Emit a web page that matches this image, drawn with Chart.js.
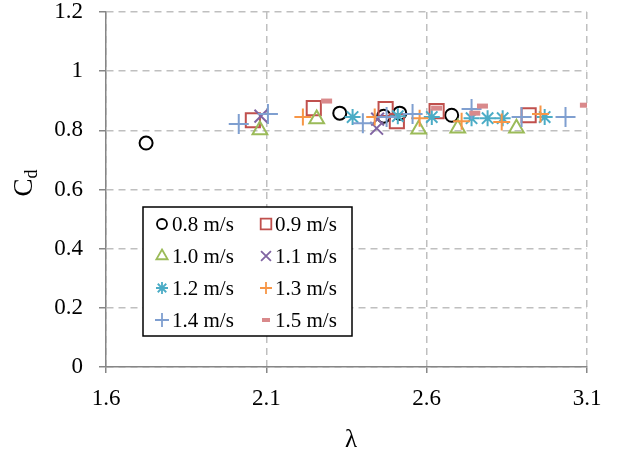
<!DOCTYPE html>
<html><head><meta charset="utf-8">
<script src="https://cdn.jsdelivr.net/npm/chart.js@4/dist/chart.umd.min.js"></script>
<style>html,body{margin:0;padding:0;background:#fff}#wrap{width:622px;height:456px}</style>
</head><body><div id="wrap"><canvas id="c" width="622" height="456"></canvas></div>
<script>
const seriesLabels = ['0.8 m/s','0.9 m/s','1.0 m/s','1.1 m/s','1.2 m/s','1.3 m/s','1.4 m/s','1.5 m/s'];
const lambda_08 = [1.725, 2.329, 2.466, 2.516, 2.678];
const cd_08     = [0.757, 0.858, 0.848, 0.858, 0.851];
const lambda_09 = [2.058, 2.248, 2.472, 2.507, 2.631, 2.918];
const cd_09     = [0.834, 0.875, 0.872, 0.831, 0.865, 0.851];
const lambda_10 = [2.080, 2.257, 2.575, 2.697, 2.880];
const cd_10     = [0.801, 0.838, 0.804, 0.807, 0.807];
const lambda_11 = [2.083, 2.444, 2.447];
const cd_11     = [0.848, 0.807, 0.838];
const lambda_12 = [2.369, 2.510, 2.616, 2.740, 2.790, 2.837, 2.968];
const cd_12     = [0.845, 0.848, 0.845, 0.841, 0.841, 0.841, 0.845];
const lambda_13 = [2.214, 2.438, 2.578, 2.709, 2.834, 2.955];
const cd_13     = [0.845, 0.845, 0.841, 0.831, 0.828, 0.855];
const lambda_14 = [2.014, 2.105, 2.401, 2.475, 2.556, 2.740, 2.896, 3.033];
const cd_14     = [0.821, 0.855, 0.824, 0.845, 0.855, 0.872, 0.845, 0.845];
const lambda_15 = [2.288, 2.631, 2.750, 2.774, 3.095];
const cd_15     = [0.899, 0.875, 0.858, 0.882, 0.885];
const xTicks = [1.6, 2.1, 2.6, 3.1];
const xTickLabels = ['1.6', '2.1', '2.6', '3.1'];
const yTicks = [0, 0.2, 0.4, 0.6, 0.8, 1.0, 1.2];
const yTickLabels = ['0', '0.2', '0.4', '0.6', '0.8', '1', '1.2'];
const xTitle = 'λ';

const lambdas = [lambda_08, lambda_09, lambda_10, lambda_11, lambda_12, lambda_13, lambda_14, lambda_15];
const cds = [cd_08, cd_09, cd_10, cd_11, cd_12, cd_13, cd_14, cd_15];

const styles = [
  {pointStyle:'circle',   color:'#000000', radius:6.5, bw:2,   lr:5},
  {pointStyle:'rect',     color:'#C0504D', radius:10,  bw:2,   lr:7.5},
  {pointStyle:'triangle', color:'#9BBB59', radius:8.5, bw:2,   lr:6.5},
  {pointStyle:'crossRot', color:'#8064A2', radius:9,   bw:2,   lr:7},
  {pointStyle:'star',     color:'#4BACC6', radius:8,   bw:2,   lr:6},
  {pointStyle:'cross',    color:'#F79646', radius:8.5, bw:2,   lr:6},
  {pointStyle:'cross',    color:'#7F9FD0', radius:10,  bw:2,   lr:7},
  {pointStyle:'line',     color:'#D9898B', radius:5.5, bw:5,   lr:4}
];

const FONT = "'Liberation Serif', 'Times New Roman', serif";

const datasets = seriesLabels.map((lab, i) => ({
  label: lab,
  data: lambdas[i].map((x, j) => ({x: x, y: cds[i][j]})),
  pointStyle: styles[i].pointStyle,
  pointRadius: styles[i].radius,
  pointHoverRadius: styles[i].radius,
  pointBorderWidth: styles[i].bw,
  borderColor: styles[i].color,
  backgroundColor: 'rgba(0,0,0,0)',
  showLine: false,
  order: seriesLabels.length - i
}));

const customDraw = {
  id: 'customDraw',
  afterDraw(chart) {
    const ctx = chart.ctx;
    // legend box
    const bx = 143, by = 207, bw = 209, bh = 129;
    ctx.save();
    ctx.fillStyle = '#ffffff';
    ctx.fillRect(bx, by, bw, bh);
    ctx.strokeStyle = '#000000';
    ctx.lineWidth = 1.5;
    ctx.strokeRect(bx, by, bw, bh);
    const colMarker = [162, 266], colText = [172, 275];
    const rowY = [224, 256, 288, 320];
    ctx.font = '21px ' + FONT;
    ctx.textBaseline = 'middle';
    ctx.textAlign = 'left';
    chart.data.datasets.forEach((ds, i) => {
      const c = i % 2, r = Math.floor(i / 2);
      const s = styles[i];
      ctx.save();
      ctx.strokeStyle = s.color;
      ctx.fillStyle = 'rgba(0,0,0,0)';
      ctx.lineWidth = s.pointStyle === 'line' ? 4 : 1.8;
      Chart.helpers.drawPoint(ctx, {pointStyle: s.pointStyle, radius: s.lr, rotation: 0, borderWidth: ctx.lineWidth}, colMarker[c], rowY[r]);
      ctx.restore();
      ctx.fillStyle = '#000000';
      ctx.fillText(ds.label, colText[c], rowY[r] + 1);
    });
    // y title C_d
    ctx.save();
    ctx.translate(23, 183);
    ctx.rotate(-Math.PI / 2);
    ctx.fillStyle = '#000';
    ctx.textBaseline = 'alphabetic';
    ctx.textAlign = 'left';
    ctx.font = '27px ' + FONT;
    const wC = ctx.measureText('C').width;
    ctx.font = '18px ' + FONT;
    const wd = ctx.measureText('d').width;
    const start = -(wC + wd) / 2;
    ctx.font = '27px ' + FONT;
    ctx.fillText('C', start, 9);
    ctx.font = '18px ' + FONT;
    ctx.fillText('d', start + wC, 14);
    ctx.restore();
    // x title
    ctx.font = '25px ' + FONT;
    ctx.textAlign = 'center';
    ctx.textBaseline = 'middle';
    ctx.fillStyle = '#000';
    ctx.fillText(xTitle, 351, 440);
    ctx.restore();
  }
};

new Chart(document.getElementById('c'), {
  type: 'scatter',
  data: {datasets: datasets},
  options: {
    responsive: false,
    animation: false,
    devicePixelRatio: 1,
    layout: {padding: {left: 0, top: 12, right: 35, bottom: 0}},
    plugins: {legend: {display: false}, tooltip: {enabled: false}},
    scales: {
      x: {
        type: 'linear', min: 1.6, max: 3.1,
        afterBuildTicks: s => { s.ticks = xTicks.map(v => ({value: v})); },
        afterFit: s => { s.height = 89; s.paddingLeft = 0; s.paddingRight = 0; },
        ticks: {
          callback: (v, i) => xTickLabels[i],
          font: {family: FONT, size: 23}, color: '#000', padding: 12, maxRotation: 0, autoSkip: false
        },
        grid: {color: '#BFBFBF', lineWidth: 1.5, tickColor: '#868686', tickLength: 6, tickWidth: 1.5},
        border: {color: '#868686', width: 1.5, dash: [7, 5]}
      },
      y: {
        type: 'linear', min: 0, max: 1.2,
        afterBuildTicks: s => { s.ticks = yTicks.map(v => ({value: v})); },
        afterFit: s => { s.width = 106; s.paddingTop = 0; s.paddingBottom = 0; },
        ticks: {
          callback: (v, i) => yTickLabels[i],
          font: {family: FONT, size: 23}, color: '#000', padding: 16, autoSkip: false
        },
        grid: {color: '#BFBFBF', lineWidth: 1.5, tickColor: '#868686', tickLength: 7, tickWidth: 1.5},
        border: {color: '#868686', width: 1.5, dash: [7, 5]}
      }
    }
  },
  plugins: [customDraw]
});
</script>
</body></html>
